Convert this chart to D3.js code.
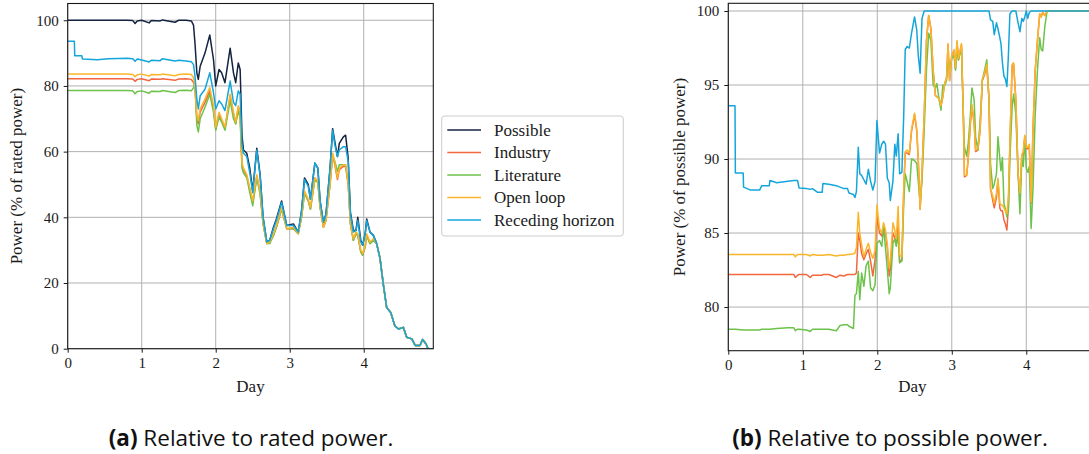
<!DOCTYPE html>
<html><head><meta charset="utf-8">
<script src="https://cdn.jsdelivr.net/npm/d3@7"></script>
<style>body{margin:0;background:#fff} svg{display:block}</style>
</head><body><svg id="c" width="1089" height="454"></svg>
<script>
// ---------- DATA ----------
const seriesNames = ["Possible", "Industry", "Literature", "Open loop", "Receding horizon"];
const xTicks = [0, 1, 2, 3, 4];
const yTicksA = [0, 20, 40, 60, 80, 100];
const yTicksB = [80, 85, 90, 95, 100];
const captions = [["(a)", " Relative to rated power."], ["(b)", " Relative to possible power."]];

// (a) relative to rated power
const daysA = [0.00,0.09,0.095,0.19,0.2,0.4,0.55,0.8,0.88,0.91,0.94,1.0,1.1,1.13,1.25,1.28,1.45,1.5,1.6,1.67,1.7,1.72,1.745,1.765,1.79,1.855,1.92,1.97,2.0,2.045,2.08,2.125,2.195,2.24,2.27,2.305,2.33,2.355,2.375,2.42,2.46,2.5,2.555,2.6,2.64,2.69,2.73,2.78,2.82,2.89,2.96,3.05,3.115,3.16,3.2,3.25,3.28,3.34,3.38,3.41,3.455,3.49,3.545,3.58,3.61,3.645,3.67,3.725,3.755,3.79,3.82,3.86,3.895,3.92,3.96,3.985,4.02,4.04,4.085,4.13,4.175,4.22,4.265,4.31,4.365,4.42,4.47,4.535,4.58,4.65,4.695,4.76,4.795,4.84,4.87,4.94];
const possibleA = [100,100,100,100,100,100,100,100,99.9,99.0,99.8,100,99.2,99.9,99.8,100.1,99.4,100,100,99.8,98.5,93,84,82,86,90,95.5,88,80,85,84,81,91.5,84,81,87,85,65,60.5,59.5,55,48,61,53,40,32.5,33,37,39.5,45,37.5,38,35.5,42,52,50,45.5,56.5,55,45,38.5,41,55,67,63,58.5,62.5,64.5,65,58,41.5,36,36,40,33,31.5,35,39.5,35.5,34.5,32,27.5,19.5,12.5,11,7,6,6.5,3.5,3,1,1,2.8,1.5,0,0];
const industryA = [82.2,82.2,82.2,82.2,82.2,82.2,82.2,82.2,82.1,81.4,82.0,82.2,81.6,82.1,82.0,82.2,81.7,82.1,82.2,82.0,81.0,79.5,70,68.5,72,75,78.5,73,67,71.5,69.5,67,77,71.5,68.5,73.5,71.5,56,54.5,52.5,48.5,44.5,52.5,47.5,38,32,32.5,34.5,37,42.5,36.5,36.5,35,40,47.5,45,42.5,52,51,43,37,39,50,59,56,51.5,54.5,55.5,55.5,50,38,33,35,34.5,29.5,28.5,31,34.5,32,33,32,27.5,19.5,12.5,11,7,6,6.5,3.5,3,1,1,2.8,1.5,0,0];
const literatureA = [78.6,78.6,78.6,78.6,78.6,78.6,78.6,78.6,78.5,77.6,78.3,78.5,77.8,78.4,78.3,78.6,78.0,78.6,78.7,78.5,79.5,80.5,68,66,70,73.5,77.5,72,66.5,70.5,69,66.5,75.5,70,68.5,72.5,70,55,53.5,52,47.5,43.5,52,47,38,32,32,34.5,37,42.5,36.5,36.5,35,40,47.5,45,42.5,51.5,50.5,43,37,39.5,50.5,59,57,54,56,56,56,50.5,38,33,35,34.5,29.5,28.5,31,34.5,32,33,32,27.5,19.5,12.5,11,7,6,6.5,3.5,3,1,1,2.8,1.5,0,0];
const openLoopA = [83.6,83.6,83.6,83.6,83.6,83.6,83.6,83.6,83.5,82.8,83.4,83.6,83.0,83.5,83.4,83.6,83.1,83.5,83.6,83.5,82.5,79.5,71,69.5,73,76,79.5,74,67.5,72,70,67.5,77.5,72,69,74,72,56.5,55,53,49,45,53,48,38.5,32,32.5,35,37.5,43,36.5,37,35,40.5,48,45.5,43,52,51,43.5,37,39,50,59.5,56.5,52,55,56,56,50.5,38,33.5,35.5,35,30,29,31.5,35,32.5,33.5,32,27.5,19.5,12.5,11,7,6,6.5,3.5,3,1,1,2.8,1.5,0,0];
const recedingA = [93.6,93.6,89.2,89.2,88.2,88.0,88.3,88.4,88.3,87.5,88.2,87.9,87.3,87.8,87.7,88.3,87.6,87.8,87.6,87.4,86.5,83,76,73,77,79,84,78,73,75.5,74.5,72.5,81.5,75,74,78.5,77.5,62,59.5,58.5,53.5,47.5,60.5,52.5,40,32.5,33,36.5,39,44.5,37.5,37.5,35.5,42,51.5,49.5,45.5,56.5,55,45,38.5,41,55,66.5,62,58.5,60.5,61.5,61.5,57,41,35.5,36,39,32.5,31.5,35,39,35.5,34.5,32,27.5,19.5,12.5,11,7,6,6.5,3.5,3,1,1,2.8,1.5,0,0];

// (b) relative to possible power
const daysB = [0.0,0.09,0.095,0.2,0.205,0.3,0.42,0.45,0.55,0.56,0.65,0.8,0.88,0.9,0.93,0.95,1.05,1.1,1.13,1.2,1.26,1.27,1.35,1.45,1.5,1.55,1.6,1.62,1.68,1.7,1.72,1.745,1.765,1.79,1.82,1.85,1.88,1.91,1.94,1.97,1.995,2.03,2.06,2.085,2.11,2.135,2.16,2.175,2.21,2.235,2.255,2.28,2.3,2.33,2.355,2.375,2.4,2.43,2.46,2.5,2.53,2.55,2.575,2.6,2.63,2.66,2.69,2.72,2.75,2.78,2.8,2.83,2.855,2.88,2.9,2.93,2.95,2.97,3.0,3.03,3.05,3.07,3.09,3.11,3.13,3.155,3.17,3.2,3.22,3.25,3.27,3.3,3.32,3.35,3.38,3.41,3.44,3.47,3.5,3.52,3.55,3.57,3.6,3.62,3.645,3.66,3.68,3.7,3.72,3.74,3.76,3.78,3.81,3.83,3.86,3.89,3.915,3.94,3.96,3.98,4.0,4.02,4.04,4.065,4.09,4.12,4.15,4.18,4.2,4.22,4.25,4.28,4.94];
const industryB = [82.2,82.2,82.2,82.2,82.2,82.2,82.2,82.2,82.2,82.2,82.2,82.2,82.2,82.0,82.15,82.2,82.2,82.0,82.15,82.15,82.15,82.2,82.2,82.0,82.15,82.1,82.2,82.2,82.2,82.2,82.3,85.0,84.5,83.6,83.2,83.6,83.9,83.1,82.1,83.2,86.1,85.0,84.8,85.5,85.0,84.0,82.1,82.6,85.0,84.7,84.4,85.6,83.0,83.2,87.8,90.4,90.4,90.3,91.9,93.0,91.9,89.9,86.6,89.0,93.0,98.0,99.7,98.8,96.0,94.3,94.2,94.1,93.6,94.2,95.0,95.5,97.7,95.3,97.0,97.3,96.1,97.9,96.7,97.2,97.7,93.0,88.8,88.9,90.0,92.4,93.6,92.4,90.5,90.6,91.9,95.3,95.7,96.3,94.0,88.0,87.2,86.7,87.4,88.5,86.7,86.5,86.5,85.9,85.6,85.2,86.8,91.0,96.3,96.4,94.0,89.0,87.6,90.2,90.4,91.5,90.7,90.7,90.9,87.0,92.0,96.0,98.0,99.8,99.6,99.9,99.7,100,100];
const literatureB = [78.5,78.5,78.5,78.45,78.45,78.45,78.45,78.5,78.5,78.5,78.55,78.6,78.6,78.4,78.5,78.5,78.45,78.35,78.5,78.5,78.5,78.5,78.5,78.4,78.75,78.8,78.8,78.7,78.55,80.8,80.9,82.4,80.5,82.3,81.4,82.8,83.1,81.3,81.1,81.5,84.3,84.5,84.1,85.4,84.0,82.5,80.9,81.3,84.3,84.6,84.1,84.9,83.0,83.1,87.0,89.0,88.5,87.8,90.0,89.9,89.7,88.5,87.0,88.5,92.0,96.0,98.5,98.0,95.0,94.8,95.1,94.0,93.3,95.0,94.9,95.3,97.0,96.0,96.8,97.0,96.0,97.5,96.7,97.1,97.5,93.0,90.8,90.2,91.0,93.0,94.8,94.0,91.5,90.6,92.5,95.3,96.0,96.7,94.0,89.7,88.0,88.3,89.0,91.5,90.0,89.2,90.1,87.0,86.6,86.1,86.5,90.0,93.5,94.4,93.0,89.0,86.3,90.0,89.5,91.4,89.4,89.1,89.5,85.3,88.0,93.0,96.0,98.2,97.4,97.3,99.0,100,100];
const openLoopB = [83.55,83.55,83.55,83.55,83.55,83.55,83.55,83.55,83.55,83.55,83.55,83.55,83.55,83.4,83.55,83.55,83.55,83.45,83.55,83.5,83.5,83.5,83.55,83.45,83.5,83.5,83.55,83.55,83.6,83.65,84.0,86.4,85.0,84.2,83.4,83.9,84.3,83.7,83.3,83.8,86.9,85.3,85.0,85.7,85.2,84.2,82.6,83.1,85.7,85.2,84.6,86.8,83.5,83.4,88.0,90.5,90.6,90.4,92.0,93.1,92.0,90.0,86.6,89.0,93.0,98.0,99.7,98.8,96.0,94.3,94.2,94.1,93.6,94.2,95.0,95.5,97.8,95.3,97.0,97.4,96.2,98.0,96.8,97.3,97.8,93.0,88.9,88.9,90.0,92.5,93.7,92.5,90.6,90.7,92.0,95.4,95.8,96.4,94.0,88.0,87.5,87.0,87.7,88.7,87.0,86.9,86.9,86.7,86.5,86.3,87.5,91.0,96.4,96.5,94.0,89.0,87.7,90.3,90.5,91.6,90.8,90.8,91.0,87.1,92.0,96.0,98.0,99.8,99.6,99.9,99.7,100,100];
const recedingB = [93.6,93.6,89.05,89.05,88.1,87.9,87.9,88.2,88.2,88.55,88.4,88.5,88.55,88.55,88.55,88.05,88.0,87.95,88.0,87.75,87.75,88.35,88.3,88.2,88.1,88.0,88.0,87.7,87.6,87.4,87.8,90.8,89.0,88.9,88.6,88.3,89.3,88.5,87.9,88.5,92.6,90.4,91.0,91.2,91.0,88.7,88.4,87.2,88.5,91.0,90.2,91.7,89.0,89.1,93.0,97.4,97.6,97.5,98.5,99.6,98.7,97.0,95.8,99.5,100,100,100,100,100,100,100,100,100,100,100,100,100,100,100,100,100,100,100,100,100,100,100,100,100,100,100,100,100,100,100,100,100,100,100,99.4,99.3,98.4,99.2,98.8,98.2,97.8,96.5,95.6,95.4,94.9,97.0,99.8,100,100,100,99.2,98.6,99.5,99.3,99.6,100,99.5,99.9,100,100,100,100,100,100,100,100,100,100];

// ---------- DRAWING ----------
const colors = ["#142340", "#f2673f", "#6cc24a", "#fbb52a", "#14a6da"];
const serif = "'Liberation Serif','Times New Roman',serif";
const svg = d3.select("#c");

function panel(o) {
  const x = d3.scaleLinear().domain([0, 4.94]).range([o.left, o.left + o.width]);
  const y = d3.scaleLinear().domain(o.yDomain).range([o.top + o.height, o.top]);
  const g = svg.append("g");
  const gridC = "#b0b0b0";
  g.selectAll(null).data(xTicks).join("line")
    .attr("x1", d => x(d)).attr("x2", d => x(d)).attr("y1", o.top).attr("y2", o.top + o.height)
    .attr("stroke", gridC).attr("stroke-width", 1);
  g.selectAll(null).data(o.yTicks).join("line")
    .attr("y1", d => y(d)).attr("y2", d => y(d)).attr("x1", o.left).attr("x2", o.left + o.width)
    .attr("stroke", gridC).attr("stroke-width", 1);
  svg.append("clipPath").attr("id", o.id).append("rect")
    .attr("x", o.left).attr("y", o.top).attr("width", o.width).attr("height", o.height);
  const line = d3.line().x(d => x(d[0])).y(d => y(d[1]));
  o.series.forEach((vals, i) => {
    if (!vals) return;
    g.append("path").datum(o.days.map((d, k) => [d, vals[k]]))
      .attr("d", line).attr("fill", "none").attr("stroke", colors[i])
      .attr("stroke-width", 1.5).attr("stroke-linejoin", "round")
      .attr("clip-path", `url(#${o.id})`);
  });
  g.append("rect").attr("x", o.left).attr("y", o.top).attr("width", o.width).attr("height", o.height)
    .attr("fill", "none").attr("stroke", "#1a1a1a").attr("stroke-width", 1.1);
  const xa = g.append("g").attr("transform", `translate(0,${o.top + o.height})`)
    .call(d3.axisBottom(x).tickValues(xTicks).tickSize(4).tickPadding(5).tickFormat(d3.format("d")));
  const ya = g.append("g").attr("transform", `translate(${o.left},0)`)
    .call(d3.axisLeft(y).tickValues(o.yTicks).tickSize(4).tickPadding(5).tickFormat(d3.format("d")));
  [xa, ya].forEach(a => {
    a.select(".domain").remove();
    a.selectAll(".tick line").attr("stroke", "#1a1a1a").attr("stroke-width", 1);
    a.selectAll(".tick text").attr("fill", "#1a1a1a").style("font-family", serif).style("font-size", "15px");
  });
  g.append("text").attr("x", (x(0) + x(4.94)) / 2)
    .attr("y", 392).attr("text-anchor", "middle").style("font-family", serif).style("font-size", "17px")
    .attr("fill", "#1a1a1a").text("Day");
  g.append("text").attr("transform", `translate(${o.ylabelX},${o.top + o.height / 2}) rotate(-90)`)
    .attr("text-anchor", "middle").style("font-family", serif).style("font-size", "17px")
    .attr("fill", "#1a1a1a").text(o.ylabel);
  return { x, y };
}

panel({ id: "clipA", left: 67.7, top: 3.5, width: 365.6, height: 345.2, yDomain: [0, 105.1], yTicks: yTicksA,
  days: daysA, series: [possibleA, industryA, literatureA, openLoopA, recedingA],
  ylabel: "Power (% of rated power)", ylabelX: 22 });
panel({ id: "clipB", left: 728.3, top: 3.3, width: 368, height: 347.4, yDomain: [77.05, 100.52], yTicks: yTicksB,
  days: daysB, series: [null, industryB, literatureB, openLoopB, recedingB],
  ylabel: "Power (% of possible power)", ylabelX: 685 });

// legend
const lg = svg.append("g");
lg.append("rect").attr("x", 441.7).attr("y", 116).attr("width", 181.6).attr("height", 120)
  .attr("rx", 3).attr("fill", "#fff").attr("fill-opacity", 0.8).attr("stroke", "#cccccc").attr("stroke-width", 1);
seriesNames.forEach((n, i) => {
  const yy = 130 + i * 22.5;
  lg.append("line").attr("x1", 447.3).attr("x2", 481).attr("y1", yy).attr("y2", yy)
    .attr("stroke", colors[i]).attr("stroke-width", 1.5);
  lg.append("text").attr("x", 494).attr("y", yy + 5.5).style("font-family", serif).style("font-size", "17px")
    .attr("fill", "#1a1a1a").text(n);
});

// captions
const capX = [251, 890];
captions.forEach((c, i) => {
  const t = svg.append("text").attr("x", capX[i]).attr("y", 446).attr("text-anchor", "middle")
    .style("font-family", "'Open Sans','Liberation Sans',sans-serif").style("font-size", "22.5px").attr("fill", "#111");
  t.append("tspan").style("font-weight", "bold").text(c[0]);
  t.append("tspan").text(c[1]);
});
</script></body></html>
